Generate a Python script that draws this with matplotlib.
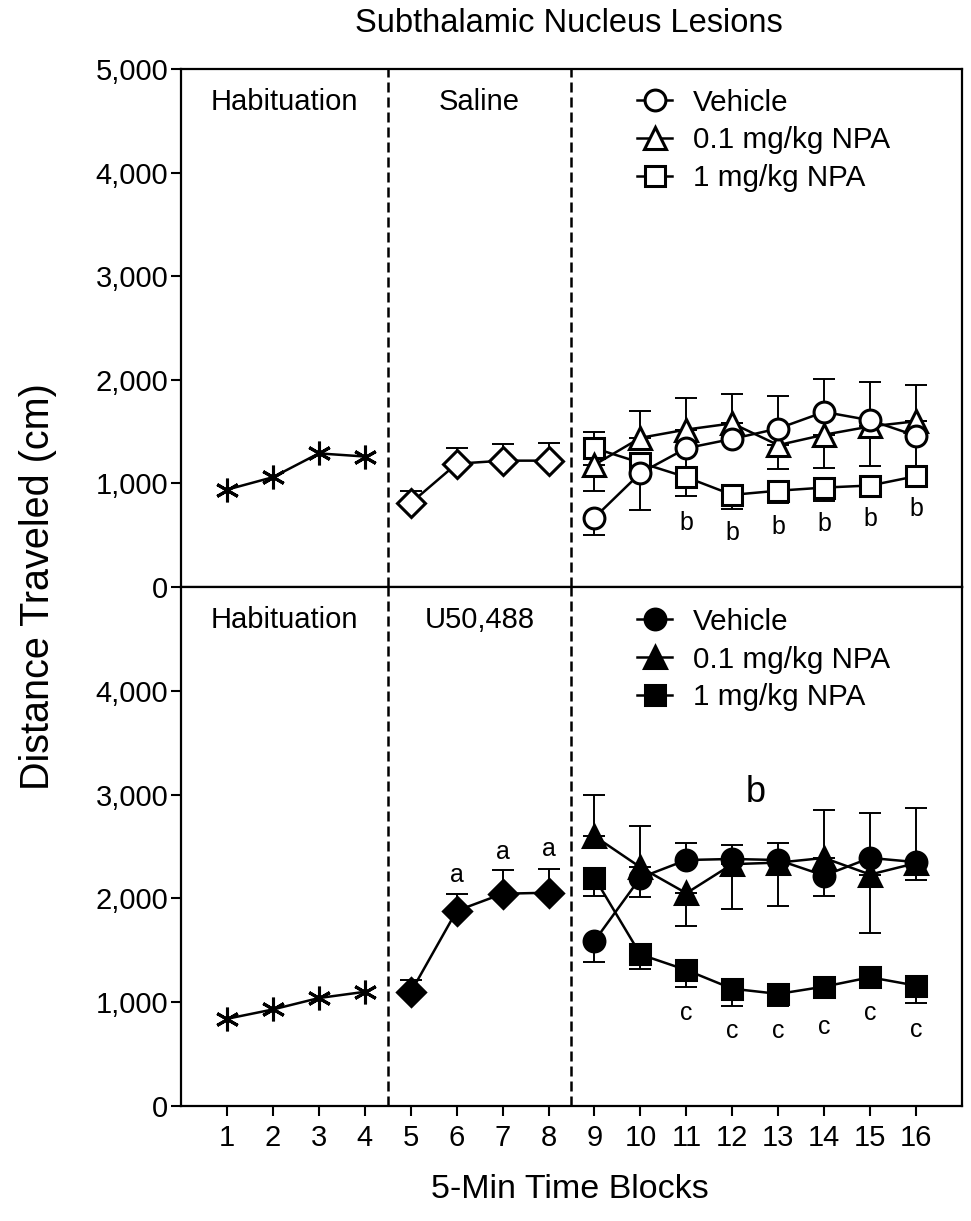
import matplotlib
matplotlib.use("Agg")
import matplotlib.pyplot as plt
from matplotlib.ticker import StrMethodFormatter

plt.rcParams["font.family"] = ["Liberation Sans", "DejaVu Sans"]

# --- data ---
blocks_hab = [1, 2, 3, 4]
blocks_drug = [5, 6, 7, 8]
blocks_npa = [9, 10, 11, 12, 13, 14, 15, 16]
tick_blocks = list(range(1, 17))

# top panel: saline day
hab_top = [940, 1060, 1290, 1260]
saline = [810, 1190, 1220, 1220]
saline_sem = [120, 155, 165, 175]
veh_top = [670, 1100, 1340, 1430, 1530, 1690, 1610, 1460]
veh_top_lo = [170, 360, 465, 0, 0, 0, 0, 385]
veh_top_hi = [0, 0, 480, 430, 310, 315, 365, 490]
npa01_top = [1180, 1440, 1520, 1580, 1370, 1470, 1550, 1600]
npa01_top_lo = [250, 0, 0, 0, 230, 320, 380, 0]
npa01_top_hi = [0, 260, 0, 0, 0, 0, 0, 0]
npa1_top = [1340, 1200, 1060, 890, 930, 960, 980, 1070]
npa1_top_lo = [0, 0, 65, 140, 120, 130, 0, 0]
npa1_top_hi = [160, 0, 0, 0, 0, 0, 0, 0]

# bottom panel: U50,488 day
hab_bot = [840, 930, 1040, 1100]
u50 = [1095, 1880, 2045, 2055]
u50_sem = [115, 160, 225, 225]
veh_bot = [1590, 2200, 2370, 2380, 2370, 2220, 2390, 2350]
veh_bot_lo = [200, 185, 0, 0, 0, 195, 0, 0]
veh_bot_hi = [0, 0, 160, 135, 160, 0, 430, 520]
npa01_bot = [2600, 2300, 2050, 2330, 2345, 2390, 2230, 2340]
npa01_bot_lo = [0, 0, 320, 430, 420, 0, 560, 165]
npa01_bot_hi = [400, 395, 0, 0, 0, 465, 0, 0]
npa1_bot = [2200, 1460, 1310, 1130, 1080, 1150, 1240, 1160]
npa1_bot_lo = [180, 140, 160, 170, 120, 0, 0, 165]
npa1_bot_hi = [0, 0, 0, 0, 0, 0, 0, 0]

group_labels = ["Vehicle", "0.1 mg/kg NPA", "1 mg/kg NPA"]
top_sections = ["Habituation", "Saline"]
bot_sections = ["Habituation", "U50,488"]

# significance letters
b_top_x = [11, 12, 13, 14, 15, 16]
b_top_y = [620, 525, 575, 605, 655, 755]
c_bot_x = [11, 12, 13, 14, 15, 16]
c_bot_y = [895, 720, 720, 765, 895, 735]
a_bot_x = [6, 7, 8]
a_bot_y = [2230, 2445, 2475]

LW = 1.8
MEW = 2.2
ASTER = (6, 2, 0)

fig = plt.figure(figsize=(9.71, 12.21), dpi=100)
ax_top = fig.add_axes([0.1864, 0.5192, 0.8043, 0.4243])
ax_bot = fig.add_axes([0.1864, 0.0942, 0.8043, 0.4250])


def panel(ax, hab, drug, drug_sem, groups, filled, sections, yticks):
    face = "black" if filled else "white"
    # error bars underneath everything
    ax.errorbar(blocks_drug, drug, yerr=[[0] * len(drug_sem), drug_sem], fmt="none",
                ecolor="black", elinewidth=1.4, capsize=8, capthick=1.4, zorder=2)
    for vals, lo, hi, _ in groups:
        ax.errorbar(blocks_npa, vals, yerr=[lo, hi], fmt="none", ecolor="black",
                    elinewidth=1.4, capsize=8, capthick=1.4, zorder=2)
    # habituation and drug lines
    ax.plot(blocks_hab, hab, "-", color="black", lw=LW, marker=ASTER, ms=17,
            mew=2.2, zorder=4)
    ax.plot(blocks_drug, drug, "-", color="black", lw=LW, marker="D", ms=14.5,
            mfc=face, mec="black", mew=MEW, zorder=4)
    handles = []
    for vals, _, _, (mk, ms) in groups:
        ax.plot(blocks_npa, vals, "-", color="black", lw=LW, zorder=3)
    for i, (vals, _, _, (mk, ms)) in enumerate(reversed(groups)):
        ax.plot(blocks_npa, vals, "none", marker=mk, ms=ms, mfc=face,
                mec="black", mew=MEW, zorder=4 + i * 0.1)
    for _, _, _, (mk, ms) in groups:
        h, = ax.plot([], [], "-", color="black", lw=LW, marker=mk, ms=ms,
                     mfc=face, mec="black", mew=MEW)
        handles.append(h)

    for xv in (4.5, 8.5):
        ax.axvline(xv, color="black", lw=1.8, ls=(0, (4, 2)), zorder=1)
    ax.text(2.25, 4680, sections[0], ha="center", va="center", fontsize=21)
    ax.text(6.5, 4680, sections[1], ha="center", va="center", fontsize=21)

    ax.set_xlim(0, 17)
    ax.set_ylim(0, 5000)
    ax.set_yticks(yticks)
    ax.yaxis.set_major_formatter(StrMethodFormatter("{x:,.0f}"))
    ax.tick_params(axis="y", direction="out", length=7, width=1.5, pad=2,
                   labelsize=21)
    for sp in ax.spines.values():
        sp.set_linewidth(1.6)
    return handles


h_top = panel(ax_top, hab_top, saline, saline_sem,
              [(veh_top, veh_top_lo, veh_top_hi, ("o", 15)),
               (npa01_top, npa01_top_lo, npa01_top_hi, ("^", 16.5)),
               (npa1_top, npa1_top_lo, npa1_top_hi, ("s", 14.5))],
              False, top_sections, [0, 1000, 2000, 3000, 4000, 5000])
h_bot = panel(ax_bot, hab_bot, u50, u50_sem,
              [(veh_bot, veh_bot_lo, veh_bot_hi, ("o", 15)),
               (npa01_bot, npa01_bot_lo, npa01_bot_hi, ("^", 16.5)),
               (npa1_bot, npa1_bot_lo, npa1_bot_hi, ("s", 14.5))],
              True, bot_sections, [0, 1000, 2000, 3000, 4000])

legend_kw = dict(loc="upper left", frameon=False, fontsize=21.3, handlelength=1.18,
                 handletextpad=0.7, labelspacing=0.33, borderpad=0,
                 borderaxespad=0, numpoints=1)
ax_top.legend(h_top, group_labels, bbox_to_anchor=(0.584, 0.962), **legend_kw)
ax_bot.legend(h_bot, group_labels, bbox_to_anchor=(0.584, 0.960), **legend_kw)

ax_top.tick_params(axis="x", bottom=False, labelbottom=False)
ax_bot.set_xticks(tick_blocks)
ax_bot.tick_params(axis="x", direction="out", length=7, width=1.5, pad=6,
                   labelsize=21)

for xv, yv in zip(b_top_x, b_top_y):
    ax_top.text(xv, yv, "b", ha="center", va="center", fontsize=18)
for xv, yv in zip(c_bot_x, c_bot_y):
    ax_bot.text(xv, yv, "c", ha="center", va="center", fontsize=18)
for xv, yv in zip(a_bot_x, a_bot_y):
    ax_bot.text(xv, yv, "a", ha="center", va="center", fontsize=18)
ax_bot.text(12.5, 3020, "b", ha="center", va="center", fontsize=26)

fig.text(569 / 971, 1 - 24 / 1221, "Subthalamic Nucleus Lesions", ha="center",
         va="center", fontsize=23.5)
fig.text(38 / 971, 1 - 587 / 1221, "Distance Traveled (cm)", ha="center",
         va="center", rotation=90, fontsize=28.5)
fig.text(570 / 971, 1 - 1189 / 1221, "5-Min Time Blocks", ha="center",
         va="center", fontsize=24.5)

fig.savefig("out.png", dpi=100)
